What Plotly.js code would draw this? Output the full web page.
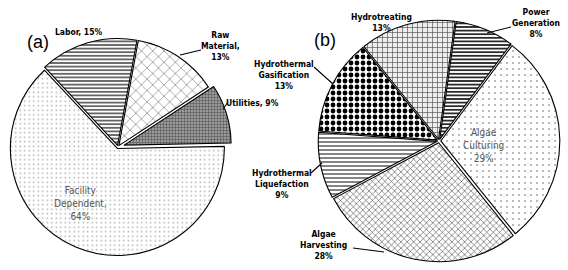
<!DOCTYPE html>
<html>
<head>
<meta charset="utf-8">
<script src="https://cdn.plot.ly/plotly-3.0.1.min.js"></script>
<style>html,body{margin:0;padding:0;background:#fff;}#chart{width:568px;height:270px;}</style>
</head>
<body>
<div id="chart"></div>
<script>
// ---- Data ----
const panelLabels = ['(a)', '(b)'];
const labelsA = ['Labor', 'Raw Material', 'Utilities', 'Facility Dependent'];
const valuesA = [15, 13, 9, 64];
const labelsB = ['Power Generation', 'Algae Culturing', 'Algae Harvesting',
                 'Hydrothermal Liquefaction', 'Hydrothermal Gasification', 'Hydrotreating'];
const valuesB = [8, 29, 28, 9, 13, 13];

// ---- Styles ----
const W = 568, H = 270;
const px = v => v / W, py = v => 1 - v / H;
const narrow = 'Liberation Sans Narrow, DejaVu Sans Condensed, Arial Narrow, Liberation Sans, Arial, sans-serif';

const patternsA = [
  {shape: '-', fgcolor: '#222', bgcolor: '#fff', size: 3.6, solidity: 0.35},
  {shape: 'x', fgcolor: '#555', bgcolor: '#fff', size: 8, solidity: 0.12},
  {shape: '+', fgcolor: '#555', bgcolor: '#9a9a9a', size: 3, solidity: 0.35},
  {shape: '.', fgcolor: '#aaa', bgcolor: '#fff', size: 4.5, solidity: 0.1}
];
const pullA = [0.015, 0.015, 0.06, 0.015];
const patternsB = [
  {shape: '-', fgcolor: '#111', bgcolor: '#fff', size: 3.6, solidity: 0.45},
  {shape: '.', fgcolor: '#aaa', bgcolor: '#fff', size: 6, solidity: 0.1},
  {shape: 'x', fgcolor: '#333', bgcolor: '#fff', size: 4.5, solidity: 0.22},
  {shape: '-', fgcolor: '#333', bgcolor: '#fff', size: 4, solidity: 0.3},
  {shape: '.', fgcolor: '#000', bgcolor: '#fff', size: 6, solidity: 0.5},
  {shape: '+', fgcolor: '#555', bgcolor: '#eee', size: 5, solidity: 0.25}
];
const pullB = valuesB.map(() => 0.015);

// label placement: text center (px) and optional leader line (from s to t, px)
const placeA = [
  {cx: 78, cy: 32},
  {cx: 220, cy: 46, sx: 201, sy: 50, tx: 180, ty: 55},
  {cx: 252, cy: 103, sx: 228, sy: 102, tx: 223, ty: 109},
  {cx: 80, cy: 203, inside: true}
];
const placeB = [
  {cx: 536, cy: 23, sx: 511, sy: 27, tx: 487, ty: 33},
  {cx: 483, cy: 145, inside: true},
  {cx: 323, cy: 245, sx: 353, sy: 248, tx: 384, ty: 252},
  {cx: 282, cy: 184, sx: 311, sy: 173, tx: 322, ty: 163},
  {cx: 284, cy: 75, sx: 314, sy: 67, tx: 333, ty: 84},
  {cx: 381, cy: 23}
];
const panelPos = [{cx: 38, cy: 42}, {cx: 325, cy: 40}];

function textA(label, v) {
  const w = label.split(' ');
  return w.join('<br>') + ',' + (w.length > 1 ? '<br>' : ' ') + v + '%';
}
function textB(label, v) {
  return label.split(' ').join('<br>') + '<br>' + v + '%';
}

function makePie(labels, values, pats, pull, rotation, domain) {
  return {
    type: 'pie', labels: labels, values: values, sort: false,
    direction: 'clockwise', rotation: rotation, pull: pull,
    textinfo: 'none', hoverinfo: 'label+percent', showlegend: false,
    marker: {pattern: {shape: pats.map(p => p.shape), fgcolor: pats.map(p => p.fgcolor),
                       bgcolor: pats.map(p => p.bgcolor), size: pats.map(p => p.size),
                       solidity: pats.map(p => p.solidity), fillmode: 'replace'},
             line: {color: '#000', width: 1.1}},
    domain: domain
  };
}
const pieA = makePie(labelsA, valuesA, patternsA, pullA, -43, {x: [0.0081, 0.4074], y: [0.0356, 0.8756]});
const pieB = makePie(labelsB, valuesB, patternsB, pullB, 8, {x: [0.5602, 0.9856], y: [0.0304, 0.9252]});

const annotations = [];
const shapes = [];
function addLabel(text, p) {
  annotations.push({
    text: text, xref: 'paper', yref: 'paper', x: px(p.cx), y: py(p.cy),
    xanchor: 'center', yanchor: 'middle', align: 'center', showarrow: false,
    font: p.inside ? {family: narrow, size: 10, color: '#555'}
                   : {family: narrow, size: 8.5, color: '#000', weight: 'bold'}
  });
  if (p.tx !== undefined) {
    shapes.push({type: 'line', xref: 'paper', yref: 'paper', layer: 'above',
      x0: px(p.sx), y0: py(p.sy), x1: px(p.tx), y1: py(p.ty),
      line: {color: '#000', width: 1.1}});
  }
}
labelsA.forEach((l, i) => addLabel(textA(l, valuesA[i]), placeA[i]));
labelsB.forEach((l, i) => addLabel(textB(l, valuesB[i]), placeB[i]));
panelLabels.forEach((t, i) => annotations.push({
  text: t, xref: 'paper', yref: 'paper', x: px(panelPos[i].cx), y: py(panelPos[i].cy),
  xanchor: 'center', yanchor: 'middle', showarrow: false,
  font: {family: 'Liberation Sans, Arial, sans-serif', size: 18, color: '#000'}
}));

const layout = {
  width: W, height: H, margin: {l: 0, r: 0, t: 0, b: 0},
  paper_bgcolor: '#fff', plot_bgcolor: '#fff', showlegend: false,
  annotations: annotations, shapes: shapes
};

Plotly.newPlot('chart', [pieA, pieB], layout, {displayModeBar: false, staticPlot: true});
</script>
</body>
</html>
